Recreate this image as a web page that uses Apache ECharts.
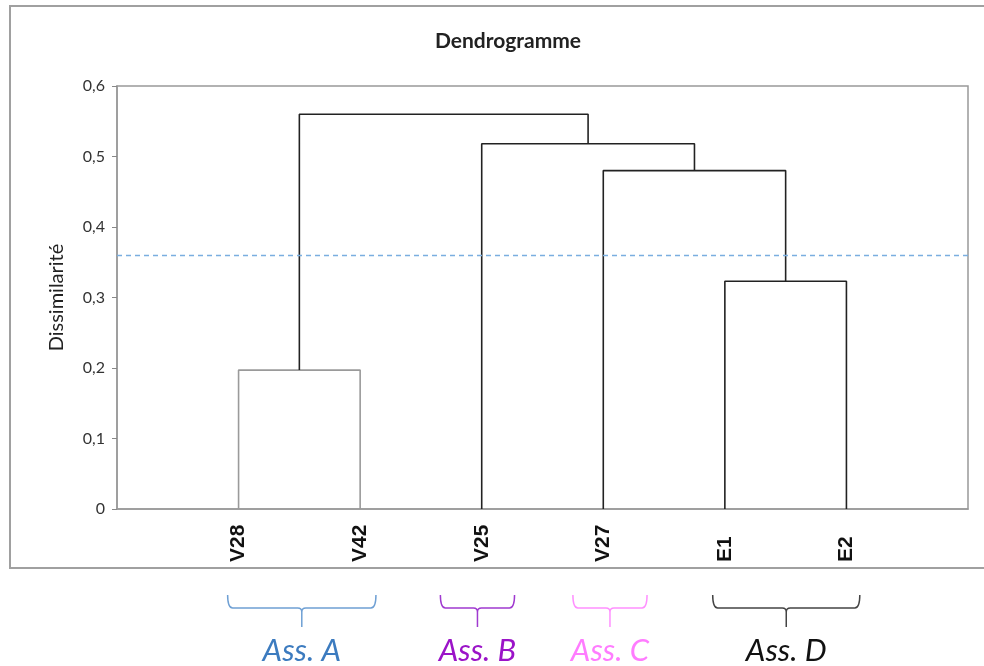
<!DOCTYPE html>
<html>
<head>
<meta charset="utf-8">
<script src="https://cdn.jsdelivr.net/npm/echarts@6/dist/echarts.min.js"></script>
<style>
  html, body { margin: 0; padding: 0; background: #fff; }
  #chart { width: 984px; height: 666px; }
</style>
</head>
<body>
<div id="chart"></div>
<script>
// leaves, left to right
const leaves = ['V28', 'V42', 'V25', 'V27', 'E1', 'E2']
// merges: [left node, right node, height]; new node ids start after the leaves
const mergeLeft = [0, 4, 3, 2, 6]
const mergeRight = [1, 5, 7, 8, 9]
const mergeHeight = [0.197, 0.323, 0.480, 0.518, 0.560]
const mergeColor = ['#9a9a9a', '#222', '#222', '#222', '#222']
const cutHeight = 0.36
// association groups under the axis (x range in axis units)
const groupNames = ['Ass. A', 'Ass. B', 'Ass. C', 'Ass. D']
const groupFrom = [0.91, 2.66, 3.75, 4.90]
const groupTo = [2.13, 3.27, 4.36, 6.11]
const groupColor = ['#3c7bbf', '#9b14c8', '#ff7cff', '#111']
const braceColor = ['#6fa0d4', '#a03ad0', '#ff90ff', '#444']

// node positions and heights
let nodeX = leaves.map((l, i) => i + 1)
let nodeH = leaves.map(() => 0)
let series = []
mergeLeft.forEach((l, i) => {
    let r = mergeRight[i]
    let h = mergeHeight[i]
    series.push({
        type: 'line',
        symbol: 'none',
        silent: true,
        lineStyle: { color: mergeColor[i], width: 1.6 },
        data: [[nodeX[l], nodeH[l]], [nodeX[l], h], [nodeX[r], h], [nodeX[r], nodeH[r]]]
    })
    nodeX.push((nodeX[l] + nodeX[r]) / 2)
    nodeH.push(h)
})

series.push({
    type: 'line',
    data: [],
    markLine: {
        silent: true,
        symbol: 'none',
        label: { show: false },
        lineStyle: { color: '#7aaee0', type: [5, 4], width: 1.3 },
        data: [{ yAxis: cutHeight }]
    }
})

series.push({
    type: 'custom',
    clip: false,
    silent: true,
    data: groupNames.map((n, i) => [groupFrom[i], groupTo[i], i]),
    renderItem (params, api) {
        let i = api.value(2)
        let x1 = api.coord([api.value(0), 0])[0]
        let x2 = api.coord([api.value(1), 0])[0]
        let y0 = api.coord([0, 0])[1]
        let m = (x1 + x2) / 2
        let top = y0 + 86, bar = y0 + 99, tip = y0 + 118
        let path = 'M' + x1 + ' ' + top + ' Q' + x1 + ' ' + bar + ' ' + (x1 + 5) + ' ' + bar +
            ' L' + (m - 4) + ' ' + bar + ' Q' + m + ' ' + bar + ' ' + m + ' ' + (bar + 4) +
            ' L' + m + ' ' + tip + ' M' + m + ' ' + (bar + 4) + ' Q' + m + ' ' + bar + ' ' + (m + 4) + ' ' + bar +
            ' L' + (x2 - 5) + ' ' + bar + ' Q' + x2 + ' ' + bar + ' ' + x2 + ' ' + top
        return {
            type: 'group',
            children: [{
                type: 'path',
                shape: { pathData: path },
                style: { fill: 'none', stroke: braceColor[i], lineWidth: 1.5 }
            }, {
                type: 'text',
                style: {
                    text: groupNames[i],
                    x: m,
                    y: y0 + 142,
                    align: 'center',
                    verticalAlign: 'middle',
                    fill: groupColor[i],
                    fontFamily: 'Lato',
                    fontStyle: 'italic',
                    fontSize: 31
                }
            }]
        }
    }
})

let chart = echarts.init(document.getElementById('chart'))
chart.setOption({
    animation: false,
    backgroundColor: '#fff',
    title: {
        text: 'Dendrogramme',
        left: 503,
        top: 26,
        textAlign: 'center',
        textStyle: { fontFamily: 'Lato', fontWeight: 'bold', fontSize: 21, color: '#222' }
    },
    graphic: [{
        type: 'rect',
        z: -1,
        shape: { x: 10, y: 6, width: 1000, height: 562 },
        style: { fill: 'none', stroke: '#a0a0a0', lineWidth: 2 }
    }],
    grid: {
        left: 117,
        right: 16,
        top: 86,
        bottom: 157,
        show: true,
        borderColor: '#999',
        borderWidth: 1.5
    },
    xAxis: {
        type: 'value',
        min: 0,
        max: 7,
        interval: 1,
        splitLine: { show: false },
        axisTick: { show: false },
        axisLine: { lineStyle: { color: '#999', width: 1.5 } },
        axisLabel: {
            rotate: 90,
            align: 'left',
            verticalAlign: 'middle',
            margin: 53,
            fontFamily: 'Liberation Sans',
            fontWeight: 'bold',
            fontSize: 21,
            color: '#111',
            formatter: v => leaves[v - 1] || ''
        }
    },
    yAxis: {
        type: 'value',
        min: 0,
        max: 0.6,
        interval: 0.1,
        name: 'Dissimilarité',
        nameLocation: 'middle',
        nameGap: 50,
        nameTextStyle: { fontFamily: 'Lato', fontSize: 20, color: '#222' },
        splitLine: { show: false },
        axisLine: { show: true, lineStyle: { color: '#999', width: 1.5 } },
        axisTick: { show: true, length: 5, lineStyle: { color: '#888' } },
        axisLabel: {
            margin: 12,
            fontFamily: 'Lato',
            fontSize: 16,
            color: '#333',
            formatter: v => v === 0 ? '0' : v.toFixed(1).replace('.', ',')
        }
    },
    series: series
})
</script>
</body>
</html>
